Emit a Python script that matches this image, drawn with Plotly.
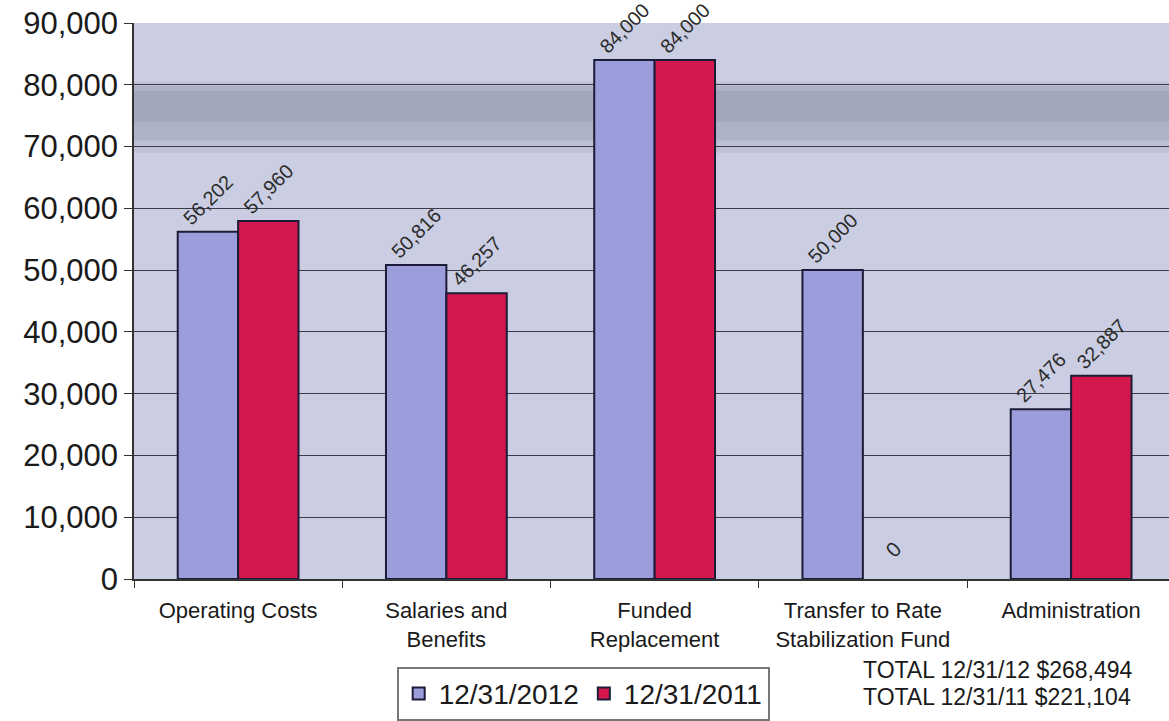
import plotly.graph_objects as go

categories = ["Operating Costs", "Salaries and<br>Benefits", "Funded<br>Replacement",
              "Transfer to Rate<br>Stabilization Fund", "Administration"]
values_2012 = [56202, 50816, 84000, 50000, 27476]
values_2011 = [57960, 46257, 84000, 0, 32887]
series_names = ["12/31/2012", "12/31/2011"]
y_ticks = [0, 10000, 20000, 30000, 40000, 50000, 60000, 70000, 80000, 90000]
totals_lines = ["TOTAL 12/31/12 $268,494", "TOTAL 12/31/11 $221,104"]

BLUE = "#9C9DDB"
RED = "#D4184D"
EDGE = "#1C1C38"
FONT = "Liberation Sans, Arial"

fig = go.Figure()
for (name, vals, col), xs in zip([(series_names[0], values_2012, BLUE),
                                  (series_names[1], values_2011, RED)], [-30, 30]):
    fig.add_trace(go.Bar(
        x=categories, y=vals, name=name,
        marker=dict(color=col, line=dict(color=EDGE, width=[2 if v else 0 for v in vals])),
        text=[f"{v:,}" if v else "" for v in vals], textposition="outside", textangle=-45,
        textfont=dict(family=FONT, size=21, color="#2a2a2a"),
        cliponaxis=False,
    ))
    for cat, v in zip(categories, vals):
        if v == 0:
            fig.add_annotation(x=cat, y=v, text="0", showarrow=False, textangle=-45,
                               xshift=xs, yshift=30,
                               font=dict(family=FONT, size=21, color="#2a2a2a"))

# background banding (decorative)
fig.add_shape(type="rect", xref="paper", yref="y", x0=0, x1=1, y0=69000, y1=80500,
              fillcolor="rgba(150,155,175,0.25)", line_width=0, layer="below")
fig.add_shape(type="rect", xref="paper", yref="y", x0=0, x1=1, y0=71000, y1=79800,
              fillcolor="rgba(140,146,165,0.30)", line_width=0, layer="below")
fig.add_shape(type="rect", xref="paper", yref="y", x0=0, x1=1, y0=74000, y1=79000,
              fillcolor="rgba(130,136,155,0.25)", line_width=0, layer="below")

for i, line in enumerate(totals_lines):
    fig.add_annotation(text=line, xref="paper", yref="paper", x=0.702,
                       y=-0.163 - i * 0.0485, xanchor="left", yanchor="middle",
                       showarrow=False, align="left",
                       font=dict(family=FONT, size=23, color="#1a1a1a"))

fig.update_layout(
    width=1169, height=721,
    margin=dict(l=134, r=0, t=23, b=140),
    paper_bgcolor="white",
    plot_bgcolor="#CBCEE2",
    barmode="group", bargap=0.42, bargroupgap=0,
    font=dict(family=FONT, color="#1a1a1a"),
    legend=dict(orientation="h", x=0.434, y=-0.158, xanchor="center", yanchor="top",
                bgcolor="white", bordercolor="#777777", borderwidth=2,
                font=dict(size=28, color="#1a1a1a"), itemwidth=30, tracegroupgap=0),
    xaxis=dict(range=[-0.5, 4.47], showline=True, linecolor="#333333", linewidth=1.5,
               ticks="outside", tickson="boundaries", ticklen=7, tickcolor="#333333",
               ticklabelstandoff=11,
               tickfont=dict(size=22, color="#1a1a1a"), showgrid=False),
    yaxis=dict(range=[0, 90000], tickvals=y_ticks, tickformat=",d",
               showline=True, linecolor="#333333", linewidth=1.5,
               ticks="outside", ticklen=8, tickcolor="#333333",
               tickfont=dict(size=31, color="#1a1a1a"),
               showgrid=True, gridcolor="#3c3c46", gridwidth=1.2, zeroline=False),
)

fig.write_html("out.html")
